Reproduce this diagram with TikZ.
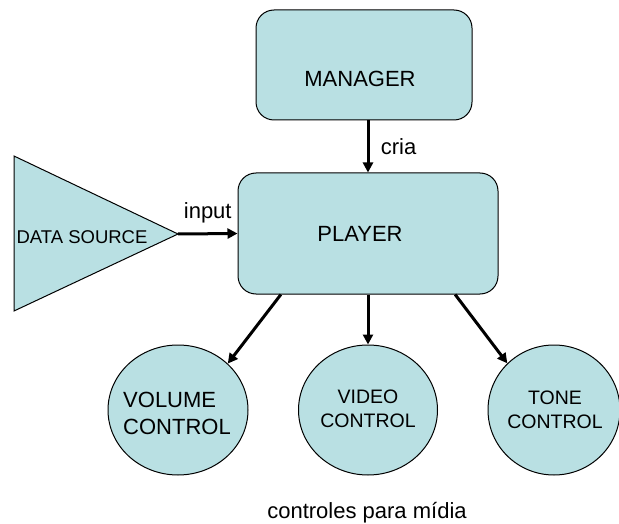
\documentclass[tikz,border=0pt]{standalone}
\usepackage{fontspec}
\setmainfont{Liberation Sans}
\usepackage{tikz}
\usetikzlibrary{arrows.meta,shapes}
\definecolor{panel}{RGB}{185,224,227}
\tikzstyle{box}=[draw,fill=panel,rounded corners=18pt,line width=1pt]
\tikzstyle{control}=[ellipse,draw,fill=panel,line width=1pt,inner sep=0pt,minimum height=130pt]
\tikzstyle{edge} = [draw,line width=3pt,->]
\tikzstyle{tag} = [font=\fontsize{22}{27}\selectfont]
\tikzstyle{smalltag} = [font=\fontsize{19.5}{24.5}\selectfont]

\begin{document}
\begin{tikzpicture}[x=1pt,y=-1pt,>={Triangle[length=10pt,width=10pt]}]
    \useasboundingbox (0,0) rectangle (619,524);
    % First the two boxes and the data source
    \node[box, minimum width=216pt, minimum height=110pt] (manager) at (364,65) {};
    \node[tag] (managertext) at (360,79) {MANAGER};
    \node[box, minimum width=260pt, minimum height=121pt] (player) at (368,233.5) {};
    \node[tag] (playertext) at (360,234) {PLAYER};
    \draw[fill=panel, line width=1pt] (14,156) -- (178,234) coordinate (tip) -- (14,311) -- cycle;
    \node[font=\fontsize{18.5}{22}\selectfont] (datasource) at (82,237) {DATA SOURCE};
    % Then the three controls
    \foreach \pos/\name/\width in {{(178,410)/volume/140}, {(368,410)/video/139}, {(554,410)/tone/132}}
        \node[control, minimum width=\width pt] (\name) at \pos {};
    \node[tag, align=left] (volumetext) at (177,413) {VOLUME\\CONTROL};
    \foreach \pos/\name/\text in {{(368,409)/videotext/VIDEO}, {(555,410)/tonetext/TONE}}
        \node[smalltag, align=center] (\name) at \pos {\text\\CONTROL};
    \node[tag] (caption) at (367,513) {controles para mídia};
    % Connect them
    \path[edge] (manager.south -| player.north) -- node[tag, right=8pt] (crialabel) {cria} (player.north);
    \path[edge] (tip) -- node[tag, above=6pt] (inputlabel) {input} (player.west);
    \foreach \source/ \dest in {player.215/volume.43, player.south/video.north, player.325/tone.135}
        \path[edge] (\source) -- (\dest);
\end{tikzpicture}
\end{document}
